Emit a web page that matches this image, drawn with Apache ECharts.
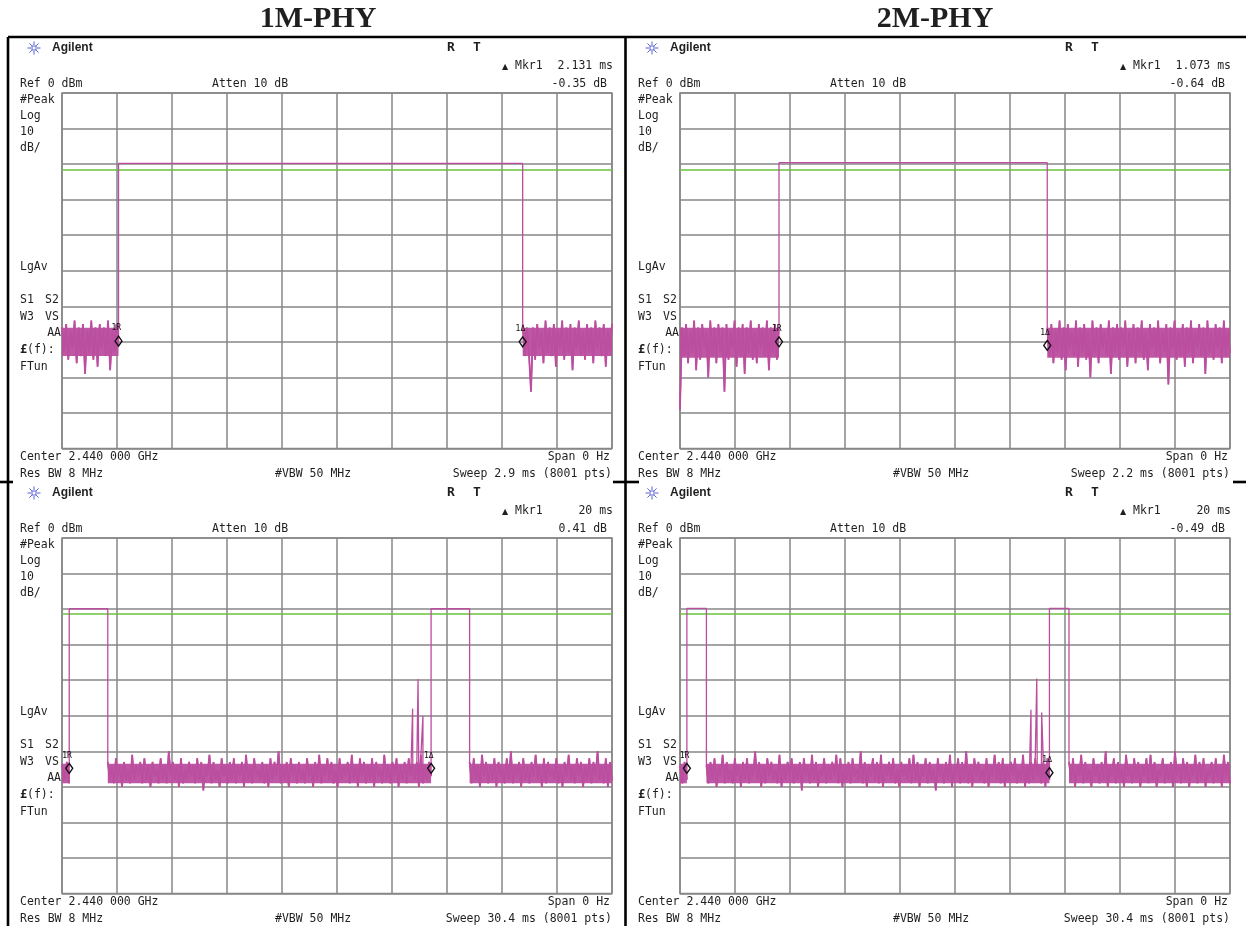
<!DOCTYPE html>
<html>
<head>
<meta charset="utf-8">
<script src="https://cdn.jsdelivr.net/npm/echarts/dist/echarts.min.js"></script>
<style>
  html, body { margin: 0; padding: 0; background: #fff; }
  #chart { width: 1246px; height: 926px; }
</style>
</head>
<body>
<div id="chart"></div>
<script>
// ---------------- measurement data ----------------
// Column headings
const columnTitles = ['1M-PHY', '2M-PHY'];
// Screens: top-left, top-right, bottom-left, bottom-right
const sweepMs = [2.9, 2.2, 30.4, 30.4];
const sweepText = ['Sweep 2.9 ms (8001 pts)', 'Sweep 2.2 ms (8001 pts)', 'Sweep 30.4 ms (8001 pts)', 'Sweep 30.4 ms (8001 pts)'];
const mkrTime = ['2.131 ms', '1.073 ms', '20 ms', '20 ms'];
const mkrLevel = ['-0.35 dB', '-0.64 dB', '0.41 dB', '-0.49 dB'];
// Display line level, dBm
const displayLine = [-21.6, -21.6, -21.4, -21.4];
// Burst level, dBm
const burstLevel = [-19.8, -19.6, -19.9, -19.8];
// Dense core of the noise floor [upper, lower], dBm
const noiseCore = [[-66.0, -74.0], [-66.0, -74.5], [-63.5, -69.0], [-63.5, -69.0]];
// Burst on/off times, ms
const burstsTL = [[0.298, 2.429]];
const burstsTR = [[0.396, 1.469]];
const burstsBL = [[0.40, 2.53], [20.40, 22.53]];
const burstsBR = [[0.38, 1.46], [20.42, 21.50]];
// Short spikes just before the second burst [ms, dBm]
const spikesTL = [];
const spikesTR = [];
const spikesBL = [[19.38, -48.0], [19.68, -39.7], [19.95, -50.1]];
const spikesBR = [[19.40, -48.3], [19.72, -39.5], [19.99, -49.1]];
// Noise floor readings between bursts, dBm
const noiseTL0 = [-66,-73,-65,-75,-67,-72,-64,-76,-66,-74,-65,-79,-67,-73,-64,-75,-66,-77,-65,-72,-66,-74,-64,-78,-67,-73,-65,-71];
const noiseTL1 = [-65,-74,-66,-73,-84,-66,-75,-65,-72,-67,-76,-64,-73,-66,-74,-65,-77,-67,-72,-64,-75,-66,-73,-65,-78,-66,-72,-64,-74,-67,-75,-65,-73,-66,-76,-64,-72,-66,-74,-65,-77,-67,-73,-65];
const noiseTR0 = [-89,-66,-74,-65,-76,-67,-73,-64,-78,-66,-75,-65,-72,-67,-80,-64,-74,-66,-76,-65,-73,-66,-84,-65,-75,-67,-72,-64,-77,-66,-74,-65,-79,-66,-73,-64,-75,-67,-76,-65,-72,-66,-74,-64,-78,-66,-73,-65,-75,-66];
const noiseTR1 = [-66,-74,-65,-76,-67,-73,-64,-75,-66,-78,-65,-72,-67,-74,-64,-77,-66,-73,-65,-75,-67,-80,-64,-73,-66,-76,-65,-72,-67,-74,-64,-79,-66,-73,-65,-75,-66,-72,-64,-77,-67,-74,-65,-76,-66,-73,-64,-75,-67,-78,-65,-72,-66,-74,-64,-76,-67,-73,-65,-82,-66,-72,-64,-75,-67,-74,-65,-77,-66,-73,-64,-76,-67,-72,-65,-74,-66,-79,-64,-73,-67,-75,-65,-72,-66,-76,-64,-74,-67,-73];
const noiseBL0 = [-64,-68,-63,-69];
const noiseBL1 = [-63,-68,-64,-69,-62,-67,-64,-70,-63,-68,-65,-69,-61,-68,-64,-67,-63,-69,-62,-68,
  -64,-70,-63,-67,-65,-69,-62,-68,-64,-69,-60,-67,-63,-68,-64,-70,-62,-69,-65,-68,
  -63,-67,-64,-69,-62,-68,-63,-71,-64,-67,-61,-69,-63,-68,-65,-70,-62,-67,-64,-69,
  -63,-68,-62,-69,-64,-67,-63,-70,-61,-68,-64,-69,-62,-67,-65,-68,-63,-69,-64,-70,
  -62,-68,-63,-67,-60,-69,-64,-68,-63,-70,-62,-67,-64,-69,-63,-68,-65,-69,-62,-67,
  -64,-70,-63,-68,-61,-69,-64,-67,-62,-68,-63,-69,-65,-70,-62,-68,-64,-67,-63,-69,
  -61,-68,-64,-70,-62,-67,-63,-69,-64,-68,-62,-70,-63,-67,-65,-69,-61,-68,-64,-69,
  -63,-67,-62,-70,-64,-68,-63,-69,-62,-67,-64,-68,-63,-70,-61,-69,-64,-68,-63,-67];
const noiseBL2 = [-63,-69,-62,-68,-64,-70,-61,-67,-63,-69,-64,-68,-62,-70,-63,-67,-65,-69,-62,-68,
  -60,-69,-64,-67,-63,-70,-62,-68,-64,-69,-63,-67,-61,-68,-64,-70,-62,-69,-63,-67,
  -65,-68,-62,-69,-64,-70,-63,-67,-61,-68,-64,-69,-62,-67,-63,-70,-64,-68,-62,-69,
  -63,-67,-60,-68,-64,-69,-62,-70,-63,-68];
const noiseBR0 = [-64,-69,-63,-68];
const noiseBR1 = [-64,-69,-63,-68,-62,-70,-64,-67,-61,-69,-63,-68,-65,-69,-62,-67,-64,-70,-63,-68,
  -62,-69,-64,-67,-60,-68,-63,-70,-64,-69,-62,-67,-63,-68,-65,-69,-61,-70,-64,-68,
  -63,-67,-62,-69,-64,-68,-63,-71,-62,-67,-64,-69,-61,-68,-63,-70,-65,-67,-62,-69,
  -64,-68,-63,-67,-61,-69,-62,-70,-64,-68,-63,-69,-62,-67,-65,-68,-60,-69,-63,-70,
  -64,-67,-62,-68,-63,-69,-61,-70,-64,-67,-63,-68,-62,-69,-65,-70,-63,-67,-64,-68,
  -62,-69,-61,-68,-63,-70,-64,-67,-62,-69,-63,-68,-65,-71,-62,-67,-64,-69,-63,-68,
  -61,-70,-64,-67,-62,-69,-63,-68,-60,-69,-64,-70,-62,-67,-63,-68,-65,-69,-62,-70,
  -64,-67,-61,-68,-63,-69,-62,-70,-64,-68,-63,-67,-62,-69,-65,-68,-61,-70,-64,-69,
  -63,-68,-62,-67,-64,-69,-63,-70,-62,-68];
const noiseBR2 = [-63,-68,-62,-70,-64,-67,-61,-69,-63,-68,-65,-70,-62,-67,-64,-69,-63,-68,-60,-70,
  -64,-67,-62,-69,-63,-68,-65,-70,-61,-67,-64,-69,-62,-68,-63,-70,-64,-67,-62,-69,
  -61,-68,-63,-70,-65,-67,-62,-69,-64,-68,-63,-70,-60,-67,-64,-69,-62,-68,-63,-70,
  -64,-67,-61,-69,-63,-68,-62,-70,-65,-67,-63,-69,-62,-68,-64,-70,-61,-67,-63,-69];
// Markers [ms, dBm, label]
const markersTL = [[0.298, -69.8, '1R'], [2.429, -70.0, '1\u0394']];
const markersTR = [[0.396, -70.0, '1R'], [1.469, -71.0, '1\u0394']];
const markersBL = [[0.40, -64.8, '1R'], [20.40, -64.8, '1\u0394']];
const markersBR = [[0.38, -64.8, '1R'], [20.42, -66.0, '1\u0394']];

// ---------------- trace assembly ----------------
// Noise readings fill the gaps between bursts; each gap's readings run from its start to its end.
function gapPoints(sweep, bursts, noiseSegs) {
  const out = [];
  let start = 0;
  const gaps = [];
  bursts.forEach(b => { gaps.push([start, b[0]]); start = b[1]; });
  gaps.push([start, sweep]);
  gaps.forEach((g, i) => {
    const vals = noiseSegs[i];
    const step = (g[1] - g[0]) / (vals.length - 1);
    out.push(vals.map((v, k) => [g[0] + k * step, v]));
  });
  return out;
}
function buildTrace(gaps, bursts, level, spikes) {
  const pts = [];
  gaps.forEach((g, i) => {
    g.forEach(pt => pts.push(pt));
    if (i < bursts.length) {
      pts.push([bursts[i][0], level]);
      pts.push([bursts[i][1], level]);
    }
  });
  spikes.forEach(s => pts.push([s[0], s[1]]));
  pts.sort((a, b) => a[0] - b[0]);
  return pts;
}

const gapSets = [
  gapPoints(sweepMs[0], burstsTL, [noiseTL0, noiseTL1]),
  gapPoints(sweepMs[1], burstsTR, [noiseTR0, noiseTR1]),
  gapPoints(sweepMs[2], burstsBL, [noiseBL0, noiseBL1, noiseBL2]),
  gapPoints(sweepMs[3], burstsBR, [noiseBR0, noiseBR1, noiseBR2])
];
const burstSets = [burstsTL, burstsTR, burstsBL, burstsBR];
const spikeSets = [spikesTL, spikesTR, spikesBL, spikesBR];
const markers = [markersTL, markersTR, markersBL, markersBR];

// ---------------- layout ----------------
const screenDx = [0, 618, 0, 618];
const screenDy = [0, 0, 445, 445];
const TRACE = '#BB4E9F';
const GREEN = '#68C33C';
const GRIDC = '#878787';
const MONO = '11.5px "DejaVu Sans Mono", monospace';
const INK = '#1f1f1f';

const grids = [], xAxes = [], yAxes = [], series = [];
for (let p = 0; p < 4; p++) {
  grids.push({ left: 62 + screenDx[p], top: 93 + screenDy[p], width: 550, height: 355.5,
    show: true, borderColor: GRIDC, borderWidth: 1.5, backgroundColor: 'transparent' });
  xAxes.push({ type: 'value', gridIndex: p, min: 0, max: sweepMs[p], interval: sweepMs[p] / 10,
    axisLabel: { show: false }, axisTick: { show: false }, axisLine: { show: false },
    splitLine: { show: true, lineStyle: { color: GRIDC, width: 1.5 } } });
  yAxes.push({ type: 'value', gridIndex: p, min: -100, max: 0, interval: 10,
    axisLabel: { show: false }, axisTick: { show: false }, axisLine: { show: false },
    splitLine: { show: true, lineStyle: { color: GRIDC, width: 1.5 } } });
  // full sweep trace (bursts, spikes and noise)
  series.push({
    type: 'line', xAxisIndex: p, yAxisIndex: p,
    data: buildTrace(gapSets[p], burstSets[p], burstLevel[p], spikeSets[p]),
    showSymbol: false, symbol: 'none', sampling: null,
    lineStyle: { color: TRACE, width: 1.3 }, silent: true, z: 3,
    markLine: {
      silent: true, symbol: ['none', 'none'], label: { show: false },
      lineStyle: { color: GREEN, width: 1.5, type: 'solid' },
      data: [{ yAxis: displayLine[p] }], z: 2
    },
    markPoint: {
      silent: true, symbol: 'diamond', symbolSize: [7, 10],
      itemStyle: { color: 'rgba(255,255,255,0)', borderColor: '#111', borderWidth: 1.4 },
      label: { show: true, position: [-3, -11], fontSize: 8, fontFamily: 'DejaVu Sans Mono', color: '#111' },
      data: markers[p].map(m => ({ coord: [m[0], m[1]], value: m[2], label: { formatter: m[2] } }))
    }
  });
  // dense noise floor: gap readings traced with a heavier pen over a filled core band
  gapSets[p].forEach(g => {
    series.push({
      type: 'line', xAxisIndex: p, yAxisIndex: p, data: g,
      showSymbol: false, symbol: 'none', sampling: null, silent: true, z: 3,
      lineStyle: { color: TRACE, width: 1.8 },
      markArea: {
        silent: true,
        itemStyle: { color: TRACE, opacity: 0.95 },
        data: [[{ coord: [g[0][0], noiseCore[p][0]] }, { coord: [g[g.length - 1][0], noiseCore[p][1]] }]]
      }
    });
  });
}

function txt(x, y, s, align, font) {
  return { type: 'text', x: x, y: y, silent: true, z: 10,
    style: { text: s, font: font || MONO, fill: INK, textAlign: align || 'left', textVerticalAlign: 'middle' } };
}
function starIcon(cx, cy) {
  const kids = [];
  for (let k = 0; k < 8; k++) {
    const a = k * Math.PI / 4;
    kids.push({ type: 'line', shape: { x1: cx + Math.cos(a) * 3, y1: cy + Math.sin(a) * 3, x2: cx + Math.cos(a) * 6.5, y2: cy + Math.sin(a) * 6.5 },
      style: { stroke: '#5a63d6', lineWidth: 1 } });
  }
  kids.push({ type: 'rect', shape: { x: cx - 2, y: cy - 2, width: 4, height: 4 }, style: { fill: 'none', stroke: '#5a63d6', lineWidth: 1 } });
  return { type: 'group', silent: true, children: kids };
}

const graphics = [];
// Column headings
graphics.push(txt(318, 19, columnTitles[0], 'center', 'bold 30px "Liberation Serif", serif'));
graphics.push(txt(935, 19, columnTitles[1], 'center', 'bold 30px "Liberation Serif", serif'));
// Frame rules
const rule = (x1, y1, x2, y2) => ({ type: 'line', silent: true, z: 12, shape: { x1, y1, x2, y2 }, style: { stroke: '#000', lineWidth: 2.6 } });
graphics.push(rule(8, 37, 8, 926), rule(625.5, 37, 625.5, 926), rule(8, 37, 1246, 37));
graphics.push(rule(0, 482, 13, 482), rule(613, 482, 639, 482), rule(1233, 482, 1246, 482));

for (let p = 0; p < 4; p++) {
  const dx = screenDx[p], dy = screenDy[p];
  graphics.push(starIcon(34 + dx, 48 + dy));
  graphics.push(txt(52 + dx, 48 + dy, 'Agilent', 'left', 'bold 12px "Liberation Sans", Arial, sans-serif'));
  graphics.push(txt(447 + dx, 48 + dy, 'R', 'left', 'bold 13px "DejaVu Sans Mono", monospace'));
  graphics.push(txt(473 + dx, 48 + dy, 'T', 'left', 'bold 13px "DejaVu Sans Mono", monospace'));
  graphics.push(txt(502 + dx, 67 + dy, '\u25B2', 'left', '8px "DejaVu Sans", sans-serif'));
  graphics.push(txt(515 + dx, 66 + dy, 'Mkr1', 'left'));
  graphics.push(txt(613 + dx, 66 + dy, mkrTime[p], 'right'));
  graphics.push(txt(607 + dx, 84 + dy, mkrLevel[p], 'right'));
  graphics.push(txt(20 + dx, 84 + dy, 'Ref 0 dBm'));
  graphics.push(txt(212 + dx, 84 + dy, 'Atten 10 dB'));
  graphics.push(txt(20 + dx, 100 + dy, '#Peak'));
  graphics.push(txt(20 + dx, 116 + dy, 'Log'));
  graphics.push(txt(20 + dx, 132 + dy, '10'));
  graphics.push(txt(20 + dx, 148 + dy, 'dB/'));
  graphics.push(txt(20 + dx, 267 + dy, 'LgAv'));
  graphics.push(txt(20 + dx, 300 + dy, 'S1'));
  graphics.push(txt(45 + dx, 300 + dy, 'S2'));
  graphics.push(txt(20 + dx, 317 + dy, 'W3'));
  graphics.push(txt(45 + dx, 317 + dy, 'VS'));
  graphics.push(txt(61 + dx, 333 + dy, 'AA', 'right'));
  graphics.push(txt(20 + dx, 350 + dy, '\u00A3', 'left', 'bold 12px "DejaVu Sans Mono", monospace'));
  graphics.push(txt(27 + dx, 350 + dy, '(f):'));
  graphics.push(txt(20 + dx, 367 + dy, 'FTun'));
  graphics.push(txt(20 + dx, 457 + dy, 'Center 2.440 000 GHz'));
  graphics.push(txt(610 + dx, 457 + dy, 'Span 0 Hz', 'right'));
  graphics.push(txt(20 + dx, 474 + dy, 'Res BW 8 MHz'));
  graphics.push(txt(275 + dx, 474 + dy, '#VBW 50 MHz'));
  graphics.push(txt(612 + dx, 474 + dy, sweepText[p], 'right'));
}

const chart = echarts.init(document.getElementById('chart'), null, { renderer: 'canvas' });
chart.setOption({
  animation: false,
  backgroundColor: '#fff',
  grid: grids,
  xAxis: xAxes,
  yAxis: yAxes,
  series: series,
  graphic: graphics
});
</script>
</body>
</html>
